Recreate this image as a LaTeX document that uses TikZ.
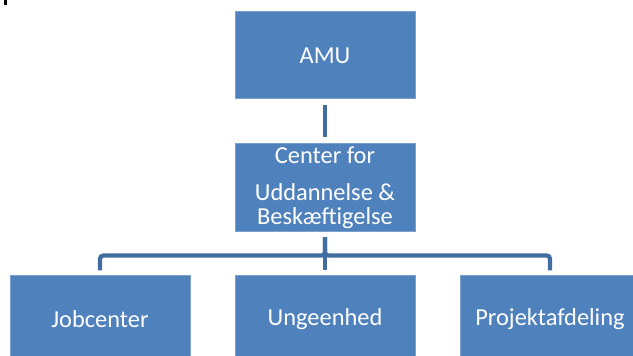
\documentclass[tikz,border=0pt]{standalone}
\usepackage{fontspec}
\setmainfont{Carlito}
\definecolor{boxblue}{RGB}{79,129,189}
\definecolor{edgeblue}{RGB}{124,160,206}
\definecolor{lineblue}{RGB}{64,108,160}
\tikzset{every picture/.style={line width=0.75pt}}
\tikzset{
  orgbox/.style={draw=edgeblue, fill=boxblue, text=white, minimum width=135pt,
    font=\fontsize{18.3}{18}\selectfont, align=center, inner sep=1pt},
  orglink/.style={draw=lineblue, line width=3.2pt, rounded corners=2.5pt}
}

\begin{document}
\begin{tikzpicture}[x=0.75pt,y=0.75pt,yscale=-1,xscale=1]
\useasboundingbox (0,0) rectangle (633,356);

% stray mark top left
\fill[black] (4,0) rectangle (7,5);

% Boxes
\node[orgbox, minimum height=65.25pt] (amu) at (325,55.5) {AMU};
\node[orgbox, minimum height=66pt] (center) at (325,188) {Center for\\[9.5pt]Uddannelse \&\\Beskæftigelse};
\node[orgbox, minimum height=64.5pt] (job) at (100,319) {Jobcenter};
\node[orgbox, minimum height=64.5pt] (unge) at (325,319) {Ungeenhed};
\node[orgbox, minimum height=64.5pt] (projekt) at (550,319) {Projektafdeling};

% Connectors
\draw[orglink, shorten <=4.5pt, shorten >=4.5pt] (amu.south) -- (center.north);
\draw[orglink, shorten <=3.75pt, shorten >=3.75pt] (center.south) -- ++(0,23) -| (job.north);
\draw[orglink, shorten <=3.75pt, shorten >=3.75pt] (center.south) -- (unge.north);
\draw[orglink, shorten <=3.75pt, shorten >=3.75pt] (center.south) -- ++(0,23) -| (projekt.north);

\end{tikzpicture}
\end{document}
